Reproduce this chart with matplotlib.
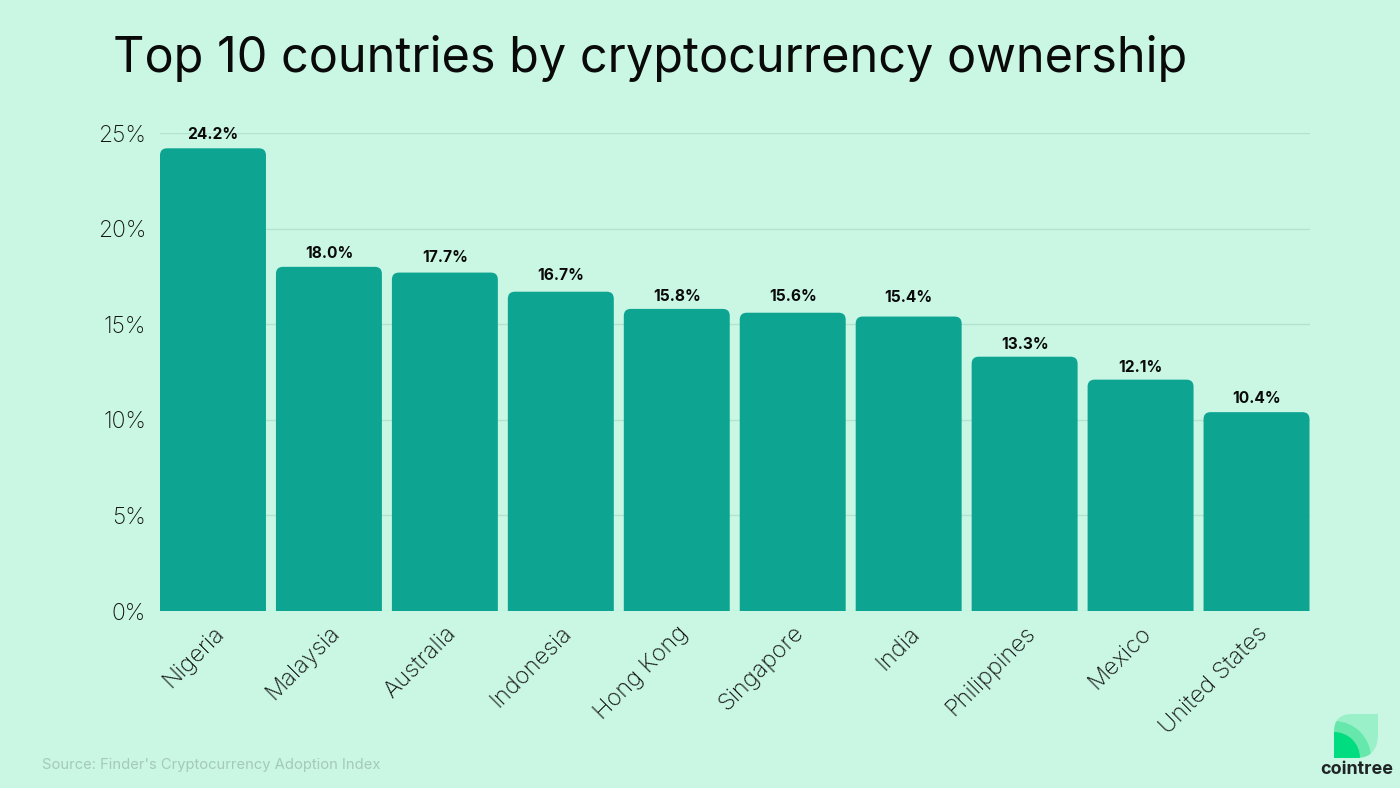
import matplotlib
matplotlib.use('Agg')
import matplotlib.pyplot as plt
from matplotlib.patches import FancyBboxPatch, Circle, PathPatch
from matplotlib.path import Path
from matplotlib.transforms import ScaledTranslation

countries = ['Nigeria', 'Malaysia', 'Australia', 'Indonesia', 'Hong Kong',
             'Singapore', 'India', 'Philippines', 'Mexico', 'United States']
ownership = [24.2, 18.0, 17.7, 16.7, 15.8, 15.6, 15.4, 13.3, 12.1, 10.4]
y_ticks = [0, 5, 10, 15, 20, 25]

W, H = 1400, 788
BG = '#c9f7e4'
BAR = '#0da492'
FONT = 'Inter'
# labels in the original don't sit at a constant distance above the bars
label_nudge = [1, 0, 2, 3, -1, 3, 6, -1, -1, 0]

plt.rcParams['font.family'] = [FONT, 'DejaVu Sans']

fig = plt.figure(figsize=(W / 100, H / 100), dpi=100, facecolor=BG)
ax = fig.add_axes([160 / W, 1 - 611 / H, 1149.5 / W, 478 / H])
ax.set_facecolor('none')

bar_width = 106 / 116
ax.set_xlim(-bar_width / 2, 9 + bar_width / 2)
ax.set_ylim(0, 25)

# rounded top corners, the bottom ones get clipped by the axes
px_x = (ax.get_xlim()[1] - ax.get_xlim()[0]) / 1149.5
px_y = 25 / 478
radius = 7 * px_x
for i, val in enumerate(ownership):
    box = FancyBboxPatch((i - bar_width / 2 + radius, -1), bar_width - 2 * radius, val + 1 - radius * px_y / px_x,
                         boxstyle=f'round,pad={radius},rounding_size={radius}',
                         mutation_aspect=px_y / px_x, fc=BAR, ec='none', zorder=3)
    ax.add_patch(box)
    ax.text(i, val + 0.3 + label_nudge[i] * px_y, f'{val:.1f}%', ha='center', va='bottom', fontsize=11.2,
            fontweight='bold', color='#0a0a0a', zorder=4)

ax.set_yticks(y_ticks)
ax.set_yticklabels([f'{t}%' for t in y_ticks], fontsize=16.5, color='#111111', fontweight='light')
ax.set_xticks(range(len(countries)))
ax.set_xticklabels(countries, rotation=45, ha='right', rotation_mode='anchor',
                   fontsize=17, color='#111111', fontweight='light')
shift = ScaledTranslation(22 / 100, -18 / 100, fig.dpi_scale_trans)
for lab in ax.get_xticklabels():
    lab.set_transform(lab.get_transform() + shift)

ax.grid(axis='y', color='#b3e3cf', lw=1, zorder=0)
ax.set_axisbelow(True)
ax.tick_params(length=0)
ax.tick_params(axis='y', pad=19 - 9)
ax.tick_params(axis='x', pad=8)
for s in ax.spines.values():
    s.set_visible(False)

fig.text(113 / W, 1 - 59 / H, 'Top 10 countries by cryptocurrency ownership',
         fontsize=35, color='#0a0a0a', va='center', ha='left')
fig.text(42 / W, 1 - 765 / H, "Source: Finder's Cryptocurrency Adoption Index",
         fontsize=10.65, color='#a6c9b9', va='center', ha='left')

# logo
logo = fig.add_axes([1334 / W, 1 - 758 / H, 44 / W, 44 / H])
logo.set_xlim(0, 44)
logo.set_ylim(0, 44)
logo.axis('off')
leaf = Path([(0, 0), (22, 0), (44, 0), (44, 24), (44, 44), (18, 44), (0, 44), (0, 26), (0, 0)],
            [Path.MOVETO, Path.LINETO, Path.CURVE3, Path.CURVE3, Path.LINETO,
             Path.LINETO, Path.CURVE3, Path.CURVE3, Path.CLOSEPOLY])
back = PathPatch(leaf, fc='#9af0c8', ec='none')
logo.add_patch(back)
for r, col in [(37, '#66e8ac'), (26, '#00dd80')]:
    c = Circle((0, 0), r, fc=col, ec='none')
    logo.add_patch(c)
    c.set_clip_path(back)
fig.text(1356.5 / W, 1 - 770 / H, 'cointree', fontsize=12.9, fontweight='bold',
         color='#1f2424', ha='center', va='center')

fig.savefig('out.png', dpi=100, facecolor=BG)
plt.close('all')
